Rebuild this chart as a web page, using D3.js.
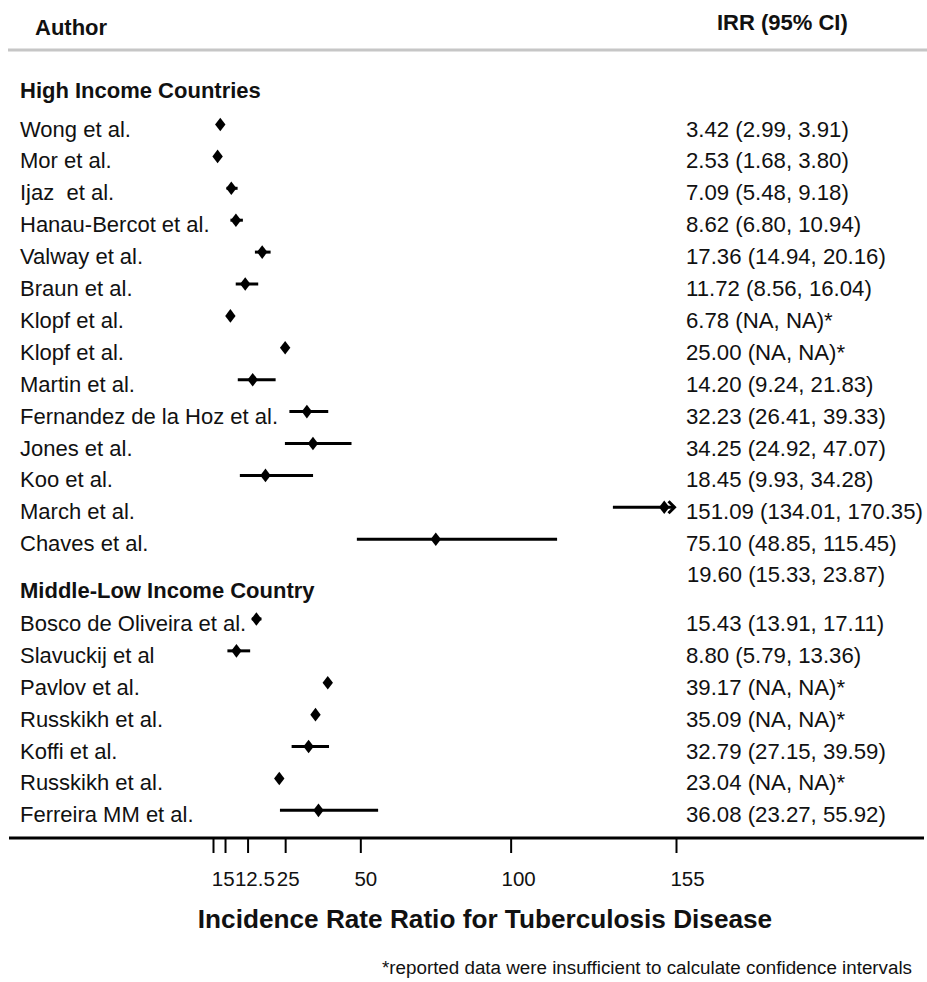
<!DOCTYPE html>
<html>
<head>
<meta charset="utf-8">
<script src="https://cdn.jsdelivr.net/npm/d3@7"></script>
<style>
  html, body { margin: 0; padding: 0; background: #fff; }
  svg { display: block; font-family: "Liberation Sans", Arial, Helvetica, sans-serif; }
  text { white-space: pre; fill: #111; }
</style>
</head>
<body>
<svg id="chart" width="927" height="982"></svg>
<script>
// ---------------- DATA ----------------
const highAuthors = ["Wong et al.", "Mor et al.", "Ijaz  et al.", "Hanau-Bercot et al.", "Valway et al.",
  "Braun et al.", "Klopf et al.", "Klopf et al.", "Martin et al.", "Fernandez de la Hoz et al.",
  "Jones et al.", "Koo et al.", "March et al.", "Chaves et al."];
const highIRR   = [3.42, 2.53, 7.09, 8.62, 17.36, 11.72, 6.78, 25.00, 14.20, 32.23, 34.25, 18.45, 151.09, 75.10];
const highLower = [2.99, 1.68, 5.48, 6.80, 14.94, 8.56, null, null, 9.24, 26.41, 24.92, 9.93, 134.01, 48.85];
const highUpper = [3.91, 3.80, 9.18, 10.94, 20.16, 16.04, null, null, 21.83, 39.33, 47.07, 34.28, 170.35, 115.45];

const highSummaryIRR = 19.60, highSummaryLower = 15.33, highSummaryUpper = 23.87;

const midAuthors = ["Bosco de Oliveira et al.", "Slavuckij et al", "Pavlov et al.", "Russkikh et al.",
  "Koffi et al.", "Russkikh et al.", "Ferreira MM et al."];
const midIRR   = [15.43, 8.80, 39.17, 35.09, 32.79, 23.04, 36.08];
const midLower = [13.91, 5.79, null, null, 27.15, null, 23.27];
const midUpper = [17.11, 13.36, null, null, 39.59, null, 55.92];

const groupNames = ["High Income Countries", "Middle-Low Income Country"];
const tickValues = [1, 5, 12.5, 25, 50, 100, 155];
const axisTitle = "Incidence Rate Ratio for Tuberculosis Disease";
const headerLeft = "Author", headerRight = "IRR (95% CI)";
const footnote = "*reported data were insufficient to calculate confidence intervals";

// ---------------- LAYOUT ----------------
const svg = d3.select("#chart");
const axisMax = 155;
const x = d3.scaleLinear().domain([1, axisMax]).range([213, 676]);
const y = d3.scaleLinear().domain([0, 21.5]).range([124.5, 810.35]);
const textDy = 12;
const fmt = d3.format(".2f");
const ciText = (v, l, u) => l == null ? `${fmt(v)} (NA, NA)*` : `${fmt(v)} (${fmt(l)}, ${fmt(u)})`;

const rows = [];
highAuthors.forEach((a, i) => rows.push({author: a, irr: highIRR[i], lo: highLower[i], hi: highUpper[i], idx: i}));
const midStart = highAuthors.length + 1.5;
midAuthors.forEach((a, i) => rows.push({author: a, irr: midIRR[i], lo: midLower[i], hi: midUpper[i], idx: midStart + i}));

// header
svg.append("text").attr("x", 35).attr("y", 35).attr("font-size", 22).attr("font-weight", "bold").text(headerLeft);
svg.append("text").attr("x", 717).attr("y", 30).attr("font-size", 22).attr("font-weight", "bold").text(headerRight);
svg.append("line").attr("x1", 8).attr("x2", 927).attr("y1", 50).attr("y2", 50)
  .attr("stroke", "#c6c6c6").attr("stroke-width", 3);

// group headers
svg.append("text").attr("x", 20).attr("y", y(-1.2) + textDy).attr("font-size", 22).attr("font-weight", "bold").text(groupNames[0]);
svg.append("text").attr("x", 20).attr("y", y(highAuthors.length + 0.48) + textDy).attr("font-size", 22).attr("font-weight", "bold").text(groupNames[1]);

// summary text for high income
svg.append("text").attr("x", 687).attr("y", y(highAuthors.length) + textDy - 1).attr("font-size", 22)
  .text(ciText(highSummaryIRR, highSummaryLower, highSummaryUpper));

// author labels
svg.append("g").selectAll("text").data(rows).join("text")
  .attr("x", 20).attr("y", d => y(d.idx) + textDy).attr("font-size", 22).text(d => d.author);

// value labels
svg.append("g").selectAll("text").data(rows).join("text")
  .attr("x", 686).attr("y", d => y(d.idx) + textDy).attr("font-size", 22.2)
  .text(d => ciText(d.irr, d.lo, d.hi));

// CI lines
const ciRows = rows.filter(d => d.lo != null);
svg.append("g").selectAll("line").data(ciRows).join("line")
  .attr("x1", d => x(d.lo)).attr("x2", d => x(Math.min(d.hi, axisMax)) - (d.hi > axisMax ? 2 : 0))
  .attr("y1", d => y(d.idx)).attr("y2", d => y(d.idx))
  .attr("stroke", "#000").attr("stroke-width", 3);

// arrows for truncated CIs
svg.append("g").selectAll("path").data(ciRows.filter(d => d.hi > axisMax)).join("path")
  .attr("d", d => {
    const tx = x(axisMax) - 1.5, cy = y(d.idx);
    return `M${tx - 6},${cy - 6}L${tx},${cy}L${tx - 6},${cy + 6}`;
  })
  .attr("fill", "none").attr("stroke", "#000").attr("stroke-width", 3);

// diamonds
const hw = 5.2, hh = 6.8;
svg.append("g").selectAll("path").data(rows).join("path")
  .attr("d", d => {
    const cx = x(d.irr), cy = y(d.idx);
    return `M${cx},${cy - hh}L${cx + hw},${cy}L${cx},${cy + hh}L${cx - hw},${cy}Z`;
  })
  .attr("fill", "#000");

// axis
const axisY = 838;
svg.append("line").attr("x1", 9).attr("x2", 924).attr("y1", axisY).attr("y2", axisY)
  .attr("stroke", "#000").attr("stroke-width", 3);
const axis = d3.axisBottom(x).tickValues(tickValues).tickSize(15).tickSizeOuter(0).tickPadding(18)
  .tickFormat(d => String(d));
const gAxis = svg.append("g").attr("transform", `translate(0,${axisY})`).call(axis);
gAxis.select(".domain").remove();
gAxis.selectAll(".tick line").attr("stroke", "#000").attr("stroke-width", 2);
// label nudges so the crowded low-end labels sit side by side as in the original
const labelNudge = new Map([[1, 4], [5, 3.3], [12.5, 6.8], [25, 2.5], [50, 5], [100, 7.5], [155, 11]]);
gAxis.selectAll(".tick text").attr("font-size", 20.5).attr("font-family", "Liberation Sans, Arial, sans-serif")
  .attr("fill", "#111").attr("dx", d => labelNudge.get(d) || 0);

// axis title
svg.append("text").attr("x", 485).attr("y", 928).attr("text-anchor", "middle")
  .attr("font-size", 26.2).attr("font-weight", "bold").text(axisTitle);

// footnote
svg.append("text").attr("x", 912).attr("y", 974).attr("text-anchor", "end")
  .attr("font-size", 18.8).text(footnote);
</script>
</body>
</html>
